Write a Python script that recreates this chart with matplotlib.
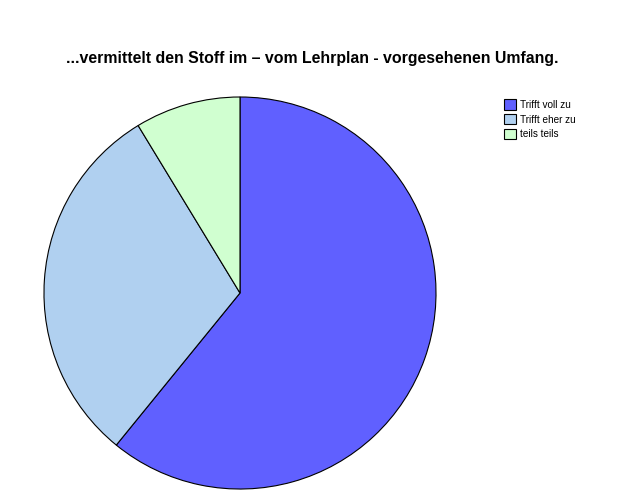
import matplotlib.pyplot as plt

labels = ['Trifft voll zu', 'Trifft eher zu', 'teils teils']
counts = [14, 7, 2]
colors = ['#6060FF', '#B0D0F0', '#D0FFD0']

plt.rcParams['font.family'] = ['Liberation Sans', 'DejaVu Sans']

fig = plt.figure(figsize=(6.24, 4.99), dpi=100)
ax = fig.add_axes([0.0689, 0.018, 0.6314, 0.7896])

wedges, _ = ax.pie(counts, colors=colors, startangle=90, counterclock=False,
                   wedgeprops={'edgecolor': 'black', 'linewidth': 0.8})
ax.set_xlim(-1.005, 1.005)
ax.set_ylim(-1.005, 1.005)
ax.set_aspect('equal')

fig.text(0.5, 1 - 58 / 499, '...vermittelt den Stoff im \u2013 vom Lehrplan - vorgesehenen Umfang.',
         ha='center', va='center', fontsize=11.4, fontweight='bold')

leg = fig.legend(wedges, labels, loc='upper left', bbox_to_anchor=(497 / 624, 1 - 92 / 499),
                 frameon=False, fontsize=7.2, handlelength=1.2, handleheight=1.25,
                 handletextpad=0.35, labelspacing=0.42, borderpad=0.2)

fig.savefig('out.png', dpi=100)
